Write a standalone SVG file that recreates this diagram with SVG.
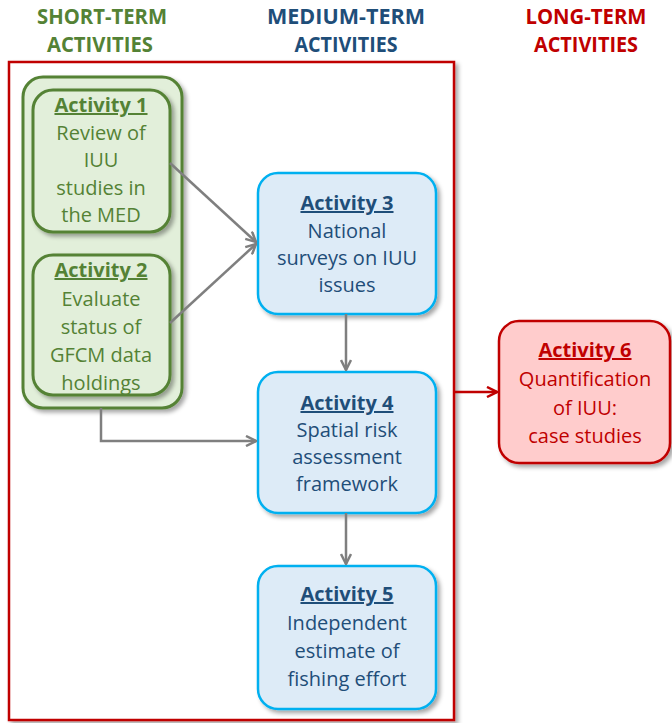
<svg xmlns="http://www.w3.org/2000/svg" width="672" height="723" viewBox="0 0 672 723">
<defs>
<filter id="sh" x="-10%" y="-10%" width="130%" height="130%">
<feDropShadow dx="3" dy="3" stdDeviation="2" flood-color="#000" flood-opacity="0.35"/>
</filter>
<marker id="ag" viewBox="0 0 12 12" refX="11" refY="6" markerWidth="12" markerHeight="12" markerUnits="userSpaceOnUse" orient="auto">
<path d="M1,1 L11,6 L1,11" fill="none" stroke="#7F7F7F" stroke-width="2.5"/>
</marker>
<marker id="ar" viewBox="0 0 12 12" refX="11" refY="6" markerWidth="12" markerHeight="12" markerUnits="userSpaceOnUse" orient="auto">
<path d="M1,1 L11,6 L1,11" fill="none" stroke="#C00000" stroke-width="2.5"/>
</marker>
</defs>
<style>
text{font-family:"Open Sans","Liberation Sans",Arial,sans-serif;font-size:20px;text-anchor:middle}
.h{font-weight:bold;font-size:20.5px}
.t{font-weight:bold;text-decoration:underline}
.g{fill:#548235}.b{fill:#1F4E79}.r{fill:#C00000}
.gb{fill:#E2EFDA;stroke:#548235;stroke-width:3}
.bb{fill:#DDEBF7;stroke:#00B0F0;stroke-width:2.5}
.rb{fill:#FFCCCC;stroke:#C00000;stroke-width:2.5}
.c{fill:none;stroke:#7F7F7F;stroke-width:2.5}
</style>
<g id="headers">
<text class="h g" x="102" y="24" textLength="130" lengthAdjust="spacingAndGlyphs">SHORT-TERM</text>
<text class="h g" x="100" y="52" textLength="106" lengthAdjust="spacingAndGlyphs">ACTIVITIES</text>
<text class="h b" x="346" y="24" textLength="158" lengthAdjust="spacingAndGlyphs">MEDIUM-TERM</text>
<text class="h b" x="346" y="52" textLength="103" lengthAdjust="spacingAndGlyphs">ACTIVITIES</text>
<text class="h r" x="586" y="24" textLength="121" lengthAdjust="spacingAndGlyphs">LONG-TERM</text>
<text class="h r" x="586" y="52" textLength="104" lengthAdjust="spacingAndGlyphs">ACTIVITIES</text>
</g>
<g id="frame">
<rect x="9" y="62" width="445" height="658" fill="#fff" stroke="#C00000" stroke-width="2.5" filter="url(#sh)"/>
</g>
<g id="shortterm">
<rect x="23" y="77" width="159" height="331" rx="20" class="gb" filter="url(#sh)"/>
</g>
<g id="activity1">
<rect x="33" y="90" width="137" height="142" rx="20" class="gb" filter="url(#sh)"/>
<text class="t g" x="101" y="112">Activity 1</text>
<text class="g" x="101" y="140">Review of</text>
<text class="g" x="101" y="167">IUU</text>
<text class="g" x="101" y="195">studies in</text>
<text class="g" x="101" y="222">the MED</text>
</g>
<g id="activity2">
<rect x="33" y="255" width="137" height="140" rx="20" class="gb" filter="url(#sh)"/>
<text class="t g" x="101" y="277">Activity 2</text>
<text class="g" x="101" y="306">Evaluate</text>
<text class="g" x="101" y="334">status of</text>
<text class="g" x="101" y="362">GFCM data</text>
<text class="g" x="101" y="390">holdings</text>
</g>
<g id="activity3">
<rect x="258" y="173" width="178" height="141" rx="20" class="bb" filter="url(#sh)"/>
<text class="t b" x="347" y="210">Activity 3</text>
<text class="b" x="347" y="238">National</text>
<text class="b" x="347" y="265">surveys on IUU</text>
<text class="b" x="347" y="292">issues</text>
</g>
<g id="activity4">
<rect x="258" y="372" width="178" height="141" rx="20" class="bb" filter="url(#sh)"/>
<text class="t b" x="347" y="410">Activity 4</text>
<text class="b" x="347" y="437">Spatial risk</text>
<text class="b" x="347" y="464">assessment</text>
<text class="b" x="347" y="491">framework</text>
</g>
<g id="activity5">
<rect x="258" y="566" width="178" height="143" rx="20" class="bb" filter="url(#sh)"/>
<text class="t b" x="347" y="601">Activity 5</text>
<text class="b" x="347" y="630">Independent</text>
<text class="b" x="347" y="658">estimate of</text>
<text class="b" x="347" y="686">fishing effort</text>
</g>
<g id="activity6">
<rect x="499" y="321" width="171" height="142" rx="20" class="rb" filter="url(#sh)"/>
<text class="t r" x="585" y="357">Activity 6</text>
<text class="r" x="585" y="386">Quantification</text>
<text class="r" x="585" y="415">of IUU:</text>
<text class="r" x="585" y="443">case studies</text>
</g>
<g id="connectors">
<line x1="170" y1="163" x2="256" y2="242" class="c" marker-end="url(#ag)"/>
<line x1="170" y1="323" x2="256" y2="244" class="c" marker-end="url(#ag)"/>
<polyline points="101,408 101,441 256,441" class="c" marker-end="url(#ag)"/>
<line x1="346" y1="314" x2="346" y2="370" class="c" marker-end="url(#ag)"/>
<line x1="346" y1="513" x2="346" y2="564" class="c" marker-end="url(#ag)"/>
<line x1="455" y1="392" x2="497" y2="392" fill="none" stroke="#C00000" stroke-width="2.5" marker-end="url(#ar)"/>
</g>
</svg>
